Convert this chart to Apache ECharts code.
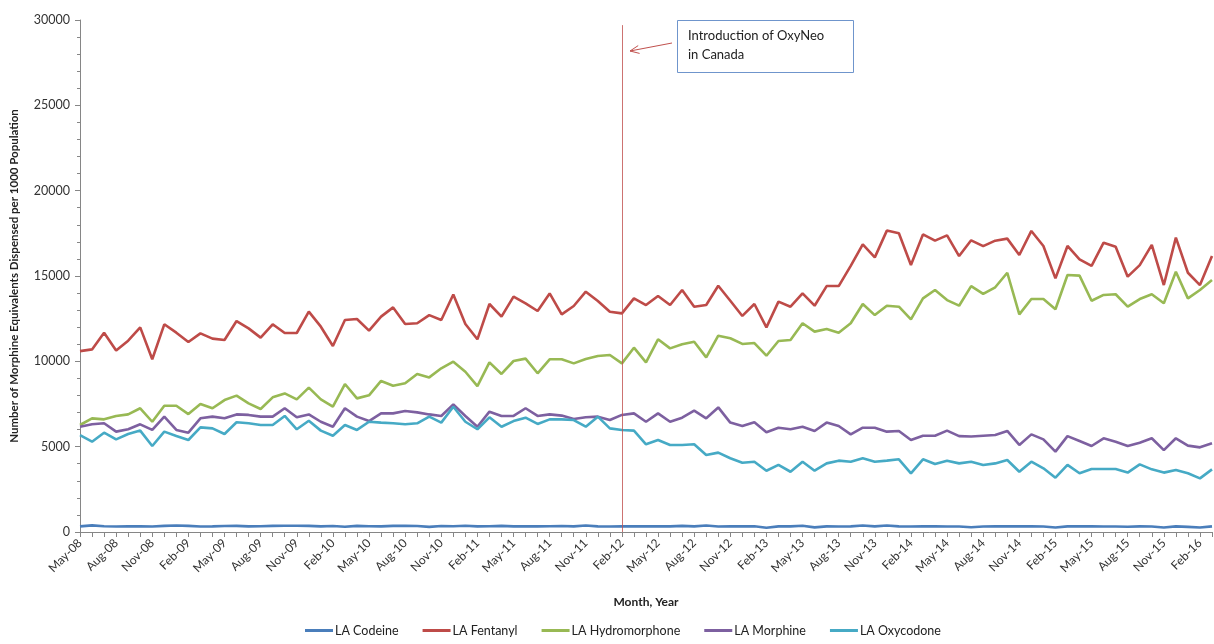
<!DOCTYPE html>
<html>
<head>
<meta charset="utf-8">
<script src="https://cdn.jsdelivr.net/npm/echarts@6/dist/echarts.min.js"></script>
<style>
html,body{margin:0;padding:0;background:#fff;}
#chart{width:1214px;height:644px;}
</style>
</head>
<body>
<div id="chart"></div>
<script>
const months = [
 'May-08','Jun-08','Jul-08','Aug-08','Sep-08','Oct-08','Nov-08','Dec-08','Jan-09','Feb-09','Mar-09','Apr-09',
 'May-09','Jun-09','Jul-09','Aug-09','Sep-09','Oct-09','Nov-09','Dec-09','Jan-10','Feb-10','Mar-10','Apr-10',
 'May-10','Jun-10','Jul-10','Aug-10','Sep-10','Oct-10','Nov-10','Dec-10','Jan-11','Feb-11','Mar-11','Apr-11',
 'May-11','Jun-11','Jul-11','Aug-11','Sep-11','Oct-11','Nov-11','Dec-11','Jan-12','Feb-12','Mar-12','Apr-12',
 'May-12','Jun-12','Jul-12','Aug-12','Sep-12','Oct-12','Nov-12','Dec-12','Jan-13','Feb-13','Mar-13','Apr-13',
 'May-13','Jun-13','Jul-13','Aug-13','Sep-13','Oct-13','Nov-13','Dec-13','Jan-14','Feb-14','Mar-14','Apr-14',
 'May-14','Jun-14','Jul-14','Aug-14','Sep-14','Oct-14','Nov-14','Dec-14','Jan-15','Feb-15','Mar-15','Apr-15',
 'May-15','Jun-15','Jul-15','Aug-15','Sep-15','Oct-15','Nov-15','Dec-15','Jan-16','Feb-16','Mar-16'
];

const codeine = [
 330,390,340,320,330,330,320,360,380,360,320,330,350,360,330,340,360,370,370,360,
 330,350,310,360,340,330,360,370,350,300,350,340,370,330,340,360,330,340,330,340,
 350,330,380,330,320,330,330,330,330,330,360,330,380,320,330,330,340,250,330,330,
 370,270,330,320,330,380,330,380,330,320,330,330,320,320,280,320,330,330,330,330,
 320,260,330,330,330,320,320,310,330,320,260,330,300,260,330
];

const fentanyl = [
 10600,10700,11680,10630,11210,11990,10120,12170,11680,11130,11640,11330,11250,12360,11930,11390,12170,11660,11660,12910,
 12030,10900,12420,12480,11800,12620,13160,12190,12230,12710,12420,13920,12190,11290,13360,12620,13790,13400,12950,13980,
 12750,13240,14080,13530,12910,12810,13690,13300,13830,13300,14180,13200,13300,14430,13550,12660,13360,11990,13500,13200,
 13980,13260,14410,14410,15590,16850,16090,17660,17500,15640,17440,17070,17380,16170,17090,16750,17070,17190,16230,17640,
 16760,14860,16760,15980,15590,16950,16720,14960,15640,16820,14470,17250,15190,14470,16170
];

const hydromorphone = [
 6270,6660,6600,6800,6890,7250,6460,7400,7400,6910,7500,7250,7730,7990,7540,7210,7890,8120,7770,8460,
 7770,7340,8670,7830,8010,8850,8570,8710,9260,9060,9590,9980,9390,8550,9940,9260,10020,10160,9300,10120,
 10120,9880,10140,10310,10370,9880,10800,9940,11290,10760,11000,11150,10230,11500,11350,11020,11070,10330,11190,11250,
 12230,11740,11890,11680,12230,13360,12710,13260,13200,12460,13690,14180,13590,13260,14410,13950,14340,15190,12750,13650,
 13650,13050,15060,15020,13550,13890,13930,13200,13650,13930,13400,15250,13690,14180,14760
];

const morphine = [
 6170,6310,6370,5880,6020,6310,5980,6760,5980,5820,6660,6760,6660,6890,6860,6760,6760,7250,6720,6890,
 6460,6170,7250,6760,6500,6950,6950,7090,7010,6890,6800,7480,6800,6170,7050,6800,6800,7250,6800,6890,
 6820,6620,6720,6760,6560,6860,6950,6460,6950,6460,6700,7110,6660,7300,6410,6210,6430,5840,6110,6020,
 6170,5920,6410,6210,5720,6110,6110,5880,5920,5390,5640,5640,5940,5620,5600,5640,5680,5920,5100,5720,
 5430,4710,5620,5330,5040,5490,5290,5040,5230,5490,4800,5490,5060,4960,5200
];

const oxycodone = [
 5680,5290,5820,5430,5740,5940,5040,5880,5620,5390,6130,6070,5740,6430,6370,6270,6270,6800,6020,6520,
 5940,5640,6270,5980,6460,6410,6370,6310,6370,6760,6410,7340,6460,6020,6720,6170,6500,6700,6330,6600,
 6600,6560,6170,6760,6070,5980,5940,5140,5390,5100,5100,5140,4510,4650,4320,4060,4120,3590,3930,3530,
 4120,3590,4020,4180,4120,4320,4120,4180,4260,3440,4260,3980,4180,4020,4120,3930,4020,4220,3530,4120,
 3730,3180,3930,3440,3690,3690,3690,3480,3960,3670,3480,3630,3440,3140,3670
];

const seriesNames = ['LA Codeine','LA Fentanyl','LA Hydromorphone','LA Morphine','LA Oxycodone'];
const seriesData = [codeine, fentanyl, hydromorphone, morphine, oxycodone];
const colors = ['#4A7EBB','#BE4B48','#98B954','#7D60A0','#46AAC5'];
const eventMonth = 'Feb-12';
const yTicks = { min: 0, max: 30000, interval: 5000 };

const FONT = 'Lato, "Open Sans", sans-serif';

const series = seriesNames.map((name, k) => ({
  name: name,
  type: 'line',
  data: seriesData[k],
  symbol: 'none',
  showSymbol: false,
  smooth: false,
  lineStyle: { width: 2.6, color: colors[k] },
  itemStyle: { color: colors[k] },
  z: 3
}));

series[1].markLine = {
  silent: true,
  symbol: ['none','none'],
  label: { show: false },
  lineStyle: { color: '#C0504D', width: 1, type: 'solid', opacity: 0.8 },
  data: [[ { coord: [eventMonth, 0] }, { coord: [eventMonth, 29700] } ]]
};

const chart = echarts.init(document.getElementById('chart'), null, { renderer: 'canvas' });
chart.setOption({
  backgroundColor: '#ffffff',
  animation: false,
  color: colors,
  grid: { left: 77, right: 2, top: 20, bottom: 112, containLabel: false },
  legend: {
    data: seriesNames,
    bottom: 2,
    left: 300,
    icon: 'rect',
    itemWidth: 28,
    itemHeight: 3,
    itemGap: 24,
    textStyle: { fontFamily: FONT, fontSize: 12.5, color: '#222', padding: [0, 0, 0, -3] }
  },
  xAxis: {
    type: 'category',
    data: months,
    boundaryGap: false,
    name: 'Month, Year',
    nameLocation: 'middle',
    nameGap: 64,
    nameTextStyle: { fontFamily: FONT, fontSize: 12, fontWeight: 'bold', color: '#222' },
    axisLine: { lineStyle: { color: '#868686', width: 1 } },
    axisTick: { show: true, interval: 0, length: 5, alignWithLabel: true, lineStyle: { color: '#868686' } },
    axisLabel: { interval: 2, rotate: 45, fontFamily: FONT, fontSize: 12, color: '#333', margin: 9 },
    splitLine: { show: false }
  },
  yAxis: {
    type: 'value',
    min: yTicks.min,
    max: yTicks.max,
    interval: yTicks.interval,
    name: 'Number of Morphine Equivalents Dispensed per 1000 Population',
    nameLocation: 'middle',
    nameGap: 60,
    nameTextStyle: { fontFamily: FONT, fontSize: 11.5, fontWeight: 'bold', color: '#222' },
    axisLine: { show: true, lineStyle: { color: '#868686', width: 1 } },
    axisTick: { show: true, length: 5, lineStyle: { color: '#868686' } },
    minorTick: { show: true, splitNumber: 5, length: 3, lineStyle: { color: '#868686' } },
    axisLabel: { fontFamily: FONT, fontSize: 12.5, color: '#333', margin: 10, formatter: v => String(v) },
    splitLine: { show: false }
  },
  graphic: [
    {
      type: 'rect',
      shape: { x: 677.5, y: 20.5, width: 176, height: 52 },
      style: { fill: '#fff', stroke: '#6F95CC', lineWidth: 1 },
      z: 10
    },
    {
      type: 'text',
      x: 688, y: 26,
      style: { text: 'Introduction of OxyNeo\nin Canada', font: '13px ' + FONT, fill: '#222', lineHeight: 19 },
      z: 11
    },
    {
      type: 'line',
      shape: { x1: 672, y1: 43, x2: 630, y2: 51 },
      style: { stroke: '#C0504D', lineWidth: 1 },
      z: 10
    },
    {
      type: 'polyline',
      shape: { points: [[638.2, 45.6], [630, 51], [639.6, 53.4]] },
      style: { stroke: '#C0504D', lineWidth: 1, fill: null },
      z: 10
    }
  ],
  series: series
});
</script>
</body>
</html>
